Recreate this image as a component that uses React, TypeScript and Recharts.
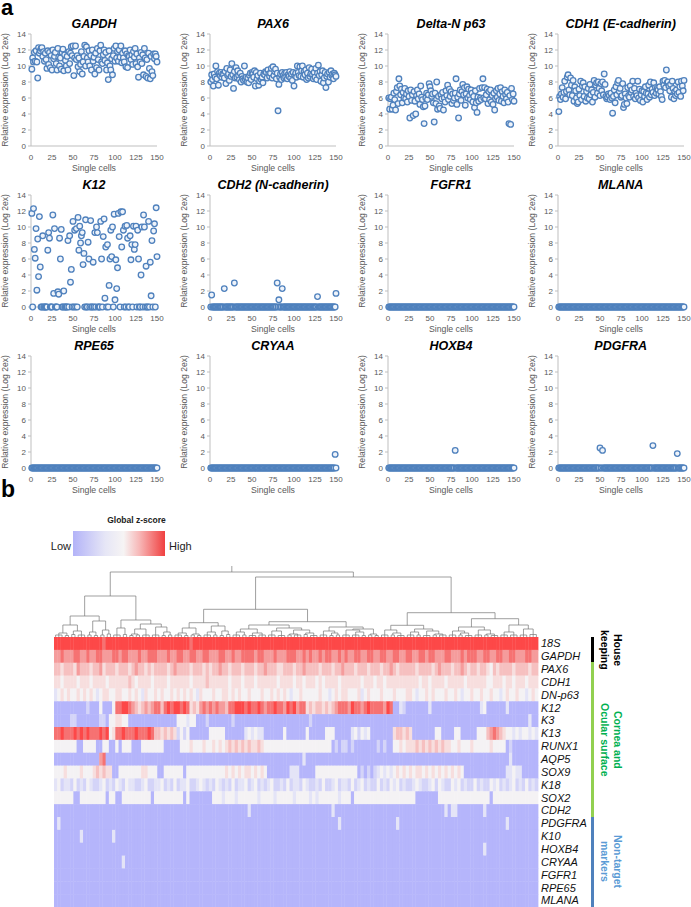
import React from "react";
import { Line, LineChart, Scatter, ScatterChart, XAxis, YAxis } from "recharts";

const FONT = '"Liberation Sans", Arial, sans-serif';

// ---------- panel a: relative expression (Log 2ex) per single cell ----------
const CELLS = Array.from({ length: 150 }, (_, i) => i + 1);
const X_TICKS = [0, 25, 50, 75, 100, 125, 150];
const Y_TICKS = [0, 2, 4, 6, 8, 10, 12, 14];

const GAPDH = [
  9.6, 11.0, 10.5, 11.7, 10.6, 11.9, 10.5, 8.5, 12.3, 11.6,
  11.9, 12.2, 12.3, 11.2, 11.8, 10.6, 11.6, 10.8, 9.7, 11.9,
  10.2, 11.7, 9.8, 11.3, 9.5, 12.0, 10.9, 11.2, 11.7, 10.3,
  9.5, 12.2, 11.1, 10.0, 11.0, 9.6, 11.7, 12.1, 9.4, 11.4,
  10.7, 10.0, 11.2, 9.5, 11.8, 10.3, 11.6, 12.4, 11.3, 12.5,
  8.8, 11.0, 12.5, 10.8, 11.3, 9.9, 11.0, 9.3, 10.2, 11.8,
  9.0, 10.5, 11.2, 12.6, 10.0, 12.4, 11.0, 10.5, 11.9, 10.0,
  11.3, 9.5, 12.0, 10.6, 11.1, 9.0, 11.6, 9.8, 12.2, 10.8,
  9.5, 11.9, 12.6, 10.5, 10.3, 11.4, 12.0, 10.7, 11.7, 9.5,
  10.4, 8.3, 11.9, 10.0, 9.5, 10.9, 8.9, 11.3, 12.2, 10.6,
  12.5, 11.0, 11.8, 10.6, 12.0, 11.1, 12.5, 10.4, 11.6, 11.0,
  10.5, 11.9, 9.9, 11.5, 9.8, 11.3, 11.2, 12.0, 10.8, 11.4,
  10.2, 11.8, 11.1, 12.2, 10.3, 11.5, 9.9, 8.6, 11.0, 10.5,
  11.7, 10.3, 11.4, 8.9, 12.2, 11.0, 8.7, 10.8, 8.5, 11.6,
  9.7, 8.4, 11.2, 9.3, 8.8, 11.5, 10.9, 11.5, 11.2, 10.5,
];

const PAX6 = [
  8.0, 8.9, 8.3, 7.5, 9.0, 8.6, 10.0, 8.4, 9.3, 7.6,
  9.1, 8.8, 9.2, 8.6, 9.0, 8.9, 8.5, 9.3, 7.8, 9.7,
  8.8, 9.0, 8.2, 9.5, 8.7, 10.3, 8.9, 7.2, 9.3, 8.5,
  9.8, 8.6, 9.4, 8.8, 8.3, 9.1, 8.0, 8.7, 8.4, 8.2,
  10.0, 8.3, 8.6, 8.0, 8.5, 7.9, 8.8, 9.1, 8.3, 9.2,
  9.0, 8.6, 9.4, 7.5, 9.2, 8.4, 8.8, 7.6, 8.1, 9.1,
  8.3, 8.6, 7.9, 9.0, 8.9, 9.3, 9.2, 8.5, 9.5, 9.0,
  8.7, 9.1, 9.7, 8.5, 9.9, 8.8, 9.3, 9.6, 8.4, 9.1,
  4.4, 7.7, 8.6, 9.0, 8.3, 9.2, 8.8, 8.5, 9.1, 8.6,
  9.2, 8.4, 8.9, 8.7, 9.3, 8.5, 9.0, 8.2, 9.2, 7.5,
  8.8, 9.1, 8.6, 10.0, 9.2, 8.8, 9.9, 8.7, 9.4, 10.0,
  8.6, 9.3, 8.9, 9.5, 8.3, 9.1, 8.5, 9.8, 8.7, 9.0,
  9.6, 8.9, 8.4, 9.2, 8.6, 9.7, 8.3, 9.1, 10.1, 8.8,
  9.3, 8.1, 8.9, 9.4, 7.9, 8.5, 9.2, 7.3, 8.7, 9.0,
  8.0, 9.2, 8.6, 9.4, 8.8, 9.0, 8.4, 9.1, 8.9, 8.7,
];

const DN_P63 = [
  6.0, 4.6, 5.9, 6.1, 4.6, 5.1, 6.6, 5.8, 4.5, 6.8,
  7.3, 5.3, 8.4, 7.5, 6.4, 7.1, 5.4, 6.7, 6.0, 7.2,
  5.9, 6.5, 5.5, 6.9, 6.2, 3.5, 7.0, 5.7, 6.4, 3.8,
  6.8, 5.6, 4.0, 6.3, 7.0, 5.9, 6.5, 5.2, 7.5, 6.1,
  5.8, 4.9, 2.8, 5.0, 6.0, 6.6, 5.8, 6.4, 7.8, 7.4,
  6.9, 6.2, 6.5, 5.4, 3.0, 6.6, 5.3, 8.0, 4.6, 6.2,
  5.0, 4.7, 6.4, 5.9, 6.7, 4.5, 6.0, 5.5, 6.9, 6.3,
  7.6, 5.8, 7.1, 6.2, 6.8, 5.3, 6.5, 5.7, 6.0, 6.6,
  8.4, 5.2, 6.1, 3.5, 6.5, 7.0, 5.7, 6.8, 7.7, 6.4,
  7.3, 5.1, 6.5, 7.4, 6.0, 7.1, 6.3, 5.8, 7.0, 6.6,
  5.5, 6.2, 4.8, 6.9, 5.4, 4.2, 6.1, 5.6, 7.2, 6.0,
  5.8, 7.3, 8.4, 6.0, 7.3, 5.9, 6.4, 7.1, 5.3, 6.8,
  5.8, 7.0, 5.5, 6.3, 5.2, 6.6, 4.5, 5.9, 6.9, 6.1,
  7.2, 5.7, 6.5, 7.3, 5.6, 6.8, 6.2, 5.4, 7.0, 6.4,
  5.9, 6.7, 5.5, 2.8, 6.3, 2.7, 7.2, 5.8, 6.5, 5.6,
];

const CDH1 = [
  4.3, 6.2, 5.8, 6.5, 7.3, 6.1, 6.7, 8.1, 5.9, 6.8,
  8.6, 8.9, 7.0, 6.4, 8.5, 7.6, 6.3, 8.2, 5.6, 7.4,
  6.9, 6.0, 5.3, 5.5, 7.1, 6.3, 8.1, 5.8, 7.5, 7.9,
  6.2, 7.4, 5.6, 6.8, 6.0, 7.2, 5.9, 7.7, 6.4, 7.0,
  5.5, 6.7, 8.2, 6.1, 7.6, 7.9, 6.6, 8.0, 7.2, 6.3,
  7.8, 6.9, 8.0, 6.4, 9.0, 7.7, 6.2, 5.9, 6.1, 6.5,
  6.3, 5.8, 6.6, 6.0, 4.1, 6.2, 7.0, 5.4, 7.4, 6.4,
  7.9, 8.2, 6.8, 7.2, 6.1, 6.3, 7.8, 4.8, 5.2, 6.5,
  6.0, 5.3, 7.3, 6.3, 6.1, 7.5, 6.7, 7.0, 8.1, 6.2,
  7.2, 5.9, 6.6, 6.3, 8.1, 6.0, 7.1, 5.7, 6.4, 6.9,
  5.5, 6.8, 6.2, 7.4, 6.6, 5.8, 6.5, 7.6, 6.1, 8.0,
  6.4, 7.1, 6.7, 7.9, 6.3, 7.3, 6.6, 7.2, 7.0, 6.5,
  7.4, 6.8, 6.2, 5.8, 8.1, 7.6, 8.2, 7.3, 9.5, 7.9,
  8.0, 7.5, 6.9, 7.7, 6.1, 8.1, 7.2, 5.9, 6.8, 6.3,
  7.0, 6.5, 8.0, 6.7, 7.4, 6.2, 8.1, 7.5, 6.9, 8.2,
];

// [cell, value]; every other cell sits on the 0 line
const K12_NONZERO = [
  [1, 11.7], [3, 12.3], [4, 7.2], [5, 6.1], [6, 9.8], [7, 2.1], [8, 8.5], [9, 3.8], [10, 11.3], [11, 5.0],
  [14, 8.9], [20, 7.1], [21, 9.3], [22, 8.6], [26, 11.5], [27, 1.7], [28, 9.8], [32, 1.9], [33, 1.6], [34, 8.6],
  [35, 6.0], [36, 9.7], [39, 2.0], [44, 8.3], [46, 8.9], [47, 3.1], [48, 4.7], [50, 10.7], [52, 9.6], [54, 9.8],
  [56, 11.2], [57, 7.1], [58, 10.1], [59, 8.0], [60, 8.9], [61, 9.3], [62, 5.3], [63, 6.7], [65, 10.9], [68, 8.1],
  [69, 6.0], [71, 10.8], [74, 5.6], [76, 9.3], [78, 10.0], [79, 9.3], [83, 10.7], [84, 6.0], [86, 8.8], [87, 11.0],
  [88, 1.1], [89, 7.5], [91, 7.8], [93, 2.7], [94, 6.0], [95, 9.6], [96, 6.3], [97, 10.0], [99, 11.6], [100, 0.9],
  [101, 5.9], [102, 2.3], [103, 4.9], [104, 11.7], [105, 8.8], [107, 11.9], [108, 7.5], [109, 11.9], [110, 9.6], [112, 10.1],
  [114, 10.2], [115, 8.6], [118, 8.9], [119, 5.9], [120, 7.8], [122, 10.1], [123, 7.2], [124, 7.8], [125, 10.1], [127, 9.6],
  [128, 6.0], [131, 4.0], [132, 10.0], [134, 11.5], [135, 10.0], [137, 5.1], [140, 10.7], [142, 5.6], [143, 1.4], [144, 8.3],
  [146, 9.5], [147, 10.4], [149, 12.4], [150, 6.3],
];
const CDH2_NONZERO = [[2, 1.5], [17, 2.3], [29, 3.0], [80, 3.0], [82, 0.9], [86, 2.3], [128, 1.3], [150, 1.7]];
const FGFR1_NONZERO: number[][] = [];
const MLANA_NONZERO: number[][] = [];
const RPE65_NONZERO: number[][] = [];
const CRYAA_NONZERO = [[149, 1.7]];
const HOXB4_NONZERO = [[80, 2.2]];
const PDGFRA_NONZERO = [[50, 2.5], [53, 2.2], [113, 2.8], [142, 1.8]];

const fromSparse = (pairs: number[][]) => {
  const m = new Map(pairs.map(([c, v]) => [c, v]));
  return CELLS.map((c) => m.get(c) ?? 0);
};

const PANEL_TITLES = [
  "GAPDH", "PAX6", "Delta-N p63", "CDH1 (E-cadherin)",
  "K12", "CDH2 (N-cadherin)", "FGFR1", "MLANA",
  "RPE65", "CRYAA", "HOXB4", "PDGFRA",
];
const PANEL_VALUES = [
  GAPDH, PAX6, DN_P63, CDH1,
  fromSparse(K12_NONZERO), fromSparse(CDH2_NONZERO), fromSparse(FGFR1_NONZERO), fromSparse(MLANA_NONZERO),
  fromSparse(RPE65_NONZERO), fromSparse(CRYAA_NONZERO), fromSparse(HOXB4_NONZERO), fromSparse(PDGFRA_NONZERO),
];

// ---------- panel b: global z-score heatmap (levels 0 low .. 9 high) ----------
const GENES = [
  "18S", "GAPDH", "PAX6", "CDH1", "DN-p63", "K12", "K3", "K13", "RUNX1", "AQP5", "SOX9",
  "K18", "SOX2", "CDH2", "PDGFRA", "K10", "HOXB4", "CRYAA", "FGFR1", "RPE65", "MLANA",
];
const Z = "0000000000 0000000000 0000000000 0000000000 0000000000 0000000000 0000000000 0000000000 0000000000 0000000000 0000000000 0000000000 0000000000 0000000000 0000000000";
const HEAT_LEVELS = [
  "9999999999 9999989999 9999999999 9999999999 9989999999 9999999999 9999999999 9999999999 9999999999 9999999999 9999999999 9999999999 9999999999 9999999999 9999999999",
  "7787778877 8778877788 7887778778 8877787788 7788778877 7887787788 8878877787 7788877878 7787887787 8778877887 7887788778 8778878877 7887778788 8778877887 7887778877",
  "6656665766 6566756665 6665676656 5666656766 6656665656 6766566656 6656676665 5666566766 6656665667 6665666566 6566765666 6656666567 6665667656 6566546566 6656666566",
  "5545555455 5455554555 5556545555 4555545555 5545555655 5555455545 5545555554 5555455455 5454555545 5555545554 5545555555 5554554555 5455555455 5555445554 5545554555",
  "3454544545 4543455445 5445454354 4545445454 5454354445 4455454544 5444544545 4543445444 4454434545 5444534544 4544454445 5434454544 4544543445 4454454434 5445443454",
  "0000000000 2000400048 8998765676 7886898998 9856578787 8776889998 9889878898 8798978856 5665656788 8798878988 8879800320 0000003000 0000000000 0034000000 3000000000",
  "0000022000 0000220445 5440000000 0000000044 4344000200 0000020000 0000000000 0000000002 0000000000 0000000000 0000000000 0000000000 0000000000 0000000000 0000000300",
  "8898889898 9888989458 8988898889 8665656524 2400000044 4440000003 4343300000 0400000040 0000444000 0034243400 0000056656 5000000044 0000440000 0444678765 4434344343",
  "4444444004 4440044004 0444000444 4444000004 4454445445 4545656565 6556544444 4444444444 4444440202 2020000000 2020044545 5565656565 6554454445 4444454444 0200000000",
  "0000000000 0000780000 0000000000 0000000000 0000000000 0000000000 0000000000 0000000300 0000000000 0000000000 0000000000 0000000000 0000000000 0000000000 0300000000",
  "4445444454 4456565500 4444444554 4400444444 0444444444 4445454545 5454540000 0003330000 0444444444 4444020202 3434345454 5455454545 4545454000 0000000000 3343300000",
  "3423324232 4322342324 3243322342 2334232423 3422343232 4323242334 2342323422 3242332432 2324223423 3242342322 4232434232 2343223424 3224342322 4232243423 2342324232",
  "4444440044 4444440440 0444444444 0444444444 0400000004 4434443444 4443444434 4444344443 4344444434 4404444444 4444444444 4400000004 4444444444 4444404444 4444444444",
  "0000000000 0000000000 0000000000 0000000000 0000000000 0000000000 3000000000 0000000000 0000003000 0000000000 0000000000 0000000000 0303300000 0003000000 0000000000",
  "0300000000 0000000000 0000000000 0000000000 0000000000 0000000000 0000000000 0000000000 0000000030 0000000000 0000003000 0000000000 0000000000 0000000000 3000000000",
  "0000000030 0000000030 0000000000 0000000000 0000000000 0000000000 0000000000 0000000000 0000000000 0000000000 0000000000 0000000000 0000000000 0000000000 0000000000",
  "0000000000 0000000000 0000000000 0000000000 0000000000 0000000000 0000000000 0000000000 0000000000 0000000000 0000000000 0000000000 0000000000 0003000000 0000000000",
  "0000000000 0000000000 0300000000 0000000000 0000000000 0000000000 0000000000 0000000000 0000000000 0000000000 0000000000 0000000000 0000000000 0000000000 0000000000",
  Z,
  Z,
  Z,
];
const PALETTE = [
  "#b5b5fb", "#c4c4f9", "#d4d4f8", "#e4e4f7", "#f4f2f4",
  "#f7dede", "#f6c0c0", "#f59c9c", "#f67272", "#fd4848",
];

const GROUPS = [
  { lines: ["House", "keeping"], text: "#000000", bar: "#000000", from: 0, to: 2 },
  { lines: ["Cornea and", "Ocular surface"], text: "#00b050", bar: "#92d050", from: 2, to: 14 },
  { lines: ["Non-target", "markers"], text: "#5b9bd5", bar: "#4f81bd", from: 14, to: 21 },
];

// dendrogram: [height, n] = n adjacent leaves joined at height; [height, left, right] = merge
type Node = [number, number] | [number, Node, Node];
const LL: Node = [21, [12, [4, [2, 3], [1.5, 2]], [6, [2.5, 2], [2, 3]]], [16, [5, [2, 2], [1.5, 2]], [7, [2, 2], [3, 2]]]];
const LR: Node = [17, [9, [2, 3], [2.5, 2]], [13, [8, [3, [1.5, 2], [2, 2]], [2, 3]], [10, [2, 3], [5, [1.5, 2], [2, 2]]]]];
const RLL: Node = [14.3, [9, [4, [2, 3], [1.5, 2]], [3, [2, 2], [1.5, 2]]], [11, [5, [2, 3], [2, 2]], [6, [1.5, 2], [2.5, 2]]]];
const RLR: Node = [15.3,
  [12, [8, [5, [2, 3], [2, 2]], [4, [1.5, 3], [2, 3]]], [9, [6, [2, 3], [1.5, 3]], [7, [3, [2, 2], [2, 3]], [4, [2.5, 2], [1.5, 3]]]]],
  [10, [6, [2, 3], [4, [1.5, 2], [2, 2]]], [8, [7, [2, 3], [5, [2, 3], [1.5, 2]]], [3, [2, 2], [1.5, 2]]]]];
const RRL: Node = [11.7, [7, [2, 3], [4, [2, 2], [1.5, 3]]], [8, [5, [2, 3], [2, 2]], [6, [1.5, 3], [3, [2, 2], [2, 3]]]]];
const RRR: Node = [18.3, [10, [6, [2, 3], [4, [2, 2], [1.5, 3]]], [7, [2, 3], [3, [2, 2], [1.5, 3]]]], [12, [5, [2, 3], [2, 3]], [8, [2, 3], [2.5, 3]]]];
const TREE: Node = [65, [41, LL, LR], [60, [27.7, RLL, RLR], [24.3, RRL, RRR]]];
const ROOT_TOP = 71;

type Pt = { x: number; y: number | null };
function layout(node: Node, start: number, out: Pt[]): { x: number; h: number; n: number } {
  if (typeof node[1] === "number") {
    const [h, n] = node as [number, number];
    const x0 = start + 0.5;
    const x1 = start + n - 0.5;
    out.push({ x: x0, y: 0 }, { x: x0, y: h }, { x: x1, y: h }, { x: x1, y: 0 }, { x: x1, y: null });
    for (let i = 1; i < n - 1; i++) out.push({ x: x0 + i, y: 0 }, { x: x0 + i, y: h }, { x: x0 + i, y: null });
    return { x: (x0 + x1) / 2, h, n };
  }
  const [h, a, b] = node as [number, Node, Node];
  const A = layout(a, start, out);
  const B = layout(b, start + A.n, out);
  out.push({ x: A.x, y: A.h }, { x: A.x, y: h }, { x: B.x, y: h }, { x: B.x, y: B.h }, { x: B.x, y: null });
  return { x: (A.x + B.x) / 2, h, n: A.n + B.n };
}
const DENDRO: Pt[] = [];
const rootPos = layout(TREE, 0, DENDRO);
DENDRO.push({ x: rootPos.x, y: rootPos.h }, { x: rootPos.x, y: ROOT_TOP });

const HEAT_CELLS = HEAT_LEVELS.flatMap((row, r) =>
  row.replace(/\s/g, "").split("").map((ch, c) => ({ c: c + 0.5, r: r + 0.5, v: Number(ch) }))
);
const ROW_TICKS = GENES.map((_, i) => i + 0.5);

// ---------- layout ----------
const COL_AXIS_X = [31, 210, 388, 557.7];
const ROW_TOP_Y = [34, 195, 356];
const PLOT_W = 126;
const HEAT_LEFT = 54;
const HEAT_TOP = 636.7;
const HEAT_W = 484;
const HEAT_H = 270;
const CELL_W = HEAT_W / 150;
const CELL_H = HEAT_H / GENES.length;

const Marker = (p: any) => (
  <circle cx={p.cx} cy={p.cy} r={2.8} fill="#eef3fa" stroke="#4f81bd" strokeWidth={1.3} />
);

const HeatCell = (p: any) => {
  const v = p.payload?.v ?? p.v;
  return (
    <rect x={p.cx - CELL_W / 2} y={p.cy - CELL_H / 2} width={CELL_W + 0.4} height={CELL_H + 0.4} fill={PALETTE[v]} />
  );
};

const YTitle = ({ viewBox }: any) => {
  const cx = viewBox.x + 5;
  const cy = viewBox.y + viewBox.height / 2;
  return (
    <text x={cx} y={cy} transform={`rotate(-90 ${cx} ${cy})`} textAnchor="middle" dominantBaseline="central" fontSize={8.6} fill="#595959">
      Relative expression (Log 2ex)
    </text>
  );
};

const XTitle = ({ viewBox }: any) => (
  <text x={viewBox.x + viewBox.width / 2} y={viewBox.y + 22} textAnchor="middle" dominantBaseline="central" fontSize={8.7} fill="#595959">
    Single cells
  </text>
);

function ExprPanel({ title, values, left, top }: { title: string; values: number[]; left: number; top: number }) {
  const data = CELLS.map((cell, i) => ({ cell, value: values[i] }));
  return (
    <div style={{ position: "absolute", left, top, width: 165, height: 176 }}>
      <div
        style={{
          position: "absolute", left: 21, width: PLOT_W + 20, top: 17, textAlign: "center",
          fontSize: 12.5, fontWeight: "bold", fontStyle: "italic", lineHeight: "15px", whiteSpace: "nowrap", color: "#000",
        }}
      >
        {title}
      </div>
      <ScatterChart width={165} height={176} margin={{ top: 34, right: 8, bottom: 0, left: 0 }}>
        <XAxis
          type="number" dataKey="cell" domain={[0, 150]} ticks={X_TICKS} interval={0} height={30}
          tickLine={false} stroke="#bfbfbf" tick={{ fontSize: 8, fill: "#595959" }} label={<XTitle />}
        />
        <YAxis
          type="number" dataKey="value" domain={[0, 14]} ticks={Y_TICKS} interval={0} width={31}
          tickSize={3} tickMargin={2} stroke="#bfbfbf" tick={{ fontSize: 8, fill: "#595959" }} label={<YTitle />}
        />
        <Scatter data={data} shape={Marker} isAnimationActive={false} />
      </ScatterChart>
    </div>
  );
}

export default function App() {
  return (
    <div style={{ position: "absolute", left: 0, top: 0, width: 691, height: 907, overflow: "hidden", background: "#fff", fontFamily: FONT }}>
      <div style={{ position: "absolute", left: 1, top: 0, fontSize: 22, fontWeight: "bold", lineHeight: "16px" }}>a</div>
      {PANEL_TITLES.map((title, i) => (
        <ExprPanel
          key={title}
          title={title}
          values={PANEL_VALUES[i]}
          left={COL_AXIS_X[i % 4] - 31}
          top={ROW_TOP_Y[Math.floor(i / 4)] - 34}
        />
      ))}

      <div style={{ position: "absolute", left: 1, top: 478, fontSize: 23, fontWeight: "bold", lineHeight: "23px" }}>b</div>

      {/* colour key */}
      <div style={{ position: "absolute", left: 100, width: 73, top: 515, textAlign: "center", fontSize: 8.5, fontWeight: "bold", color: "#222", whiteSpace: "nowrap" }}>
        Global z-score
      </div>
      <div
        style={{
          position: "absolute", left: 73, top: 531, width: 92, height: 25,
          background: "linear-gradient(to right, #b3b3f8 0%, #e6e6f6 35%, #f6f4f4 55%, #f7b8b8 72%, #f04040 100%)",
        }}
      />
      <div style={{ position: "absolute", left: 40, width: 31, top: 540, textAlign: "right", fontSize: 11, color: "#222" }}>Low</div>
      <div style={{ position: "absolute", left: 169, top: 540, fontSize: 11, color: "#222" }}>High</div>

      {/* dendrogram */}
      <div style={{ position: "absolute", left: HEAT_LEFT, top: HEAT_TOP - ROOT_TOP - 5 }}>
        <LineChart width={HEAT_W} height={ROOT_TOP + 5} data={DENDRO} margin={{ top: 5, right: 0, bottom: 0, left: 0 }}>
          <XAxis type="number" dataKey="x" domain={[0, 150]} hide />
          <YAxis type="number" domain={[0, ROOT_TOP]} hide />
          <Line type="linear" dataKey="y" stroke="#777777" strokeWidth={0.7} dot={false} connectNulls={false} isAnimationActive={false} />
        </LineChart>
      </div>

      {/* heatmap */}
      <div style={{ position: "absolute", left: HEAT_LEFT, top: HEAT_TOP }}>
        <ScatterChart width={HEAT_W + 54} height={HEAT_H} margin={{ top: 0, right: 0, bottom: 0, left: 0 }}>
          <XAxis type="number" dataKey="c" domain={[0, 150]} hide />
          <YAxis
            type="number" dataKey="r" domain={[0, GENES.length]} reversed orientation="right" width={54}
            ticks={ROW_TICKS} interval={0} axisLine={false} tickLine={false} tickSize={1} tickMargin={2}
            tickFormatter={(v: number) => GENES[Math.floor(v)]}
            tick={{ fontSize: 11, fontStyle: "italic", fill: "#111" }}
          />
          <Scatter data={HEAT_CELLS} shape={HeatCell} isAnimationActive={false} />
        </ScatterChart>
      </div>

      {/* gene groups */}
      {GROUPS.map((g) => {
        const y0 = HEAT_TOP + g.from * CELL_H;
        const y1 = HEAT_TOP + g.to * CELL_H;
        const mid = (y0 + y1) / 2;
        return (
          <React.Fragment key={g.lines[0]}>
            <div style={{ position: "absolute", left: 590.5, top: y0, width: 3, height: y1 - y0, background: g.bar }} />
            <div
              style={{
                position: "absolute", left: 597, top: mid - 50, width: 27, height: 100,
                writingMode: "vertical-rl", textAlign: "center", fontSize: 10.5, fontWeight: "bold",
                lineHeight: "13px", color: g.text, whiteSpace: "nowrap",
              }}
            >
              {g.lines[0]}
              <br />
              {g.lines[1]}
            </div>
          </React.Fragment>
        );
      })}
    </div>
  );
}
